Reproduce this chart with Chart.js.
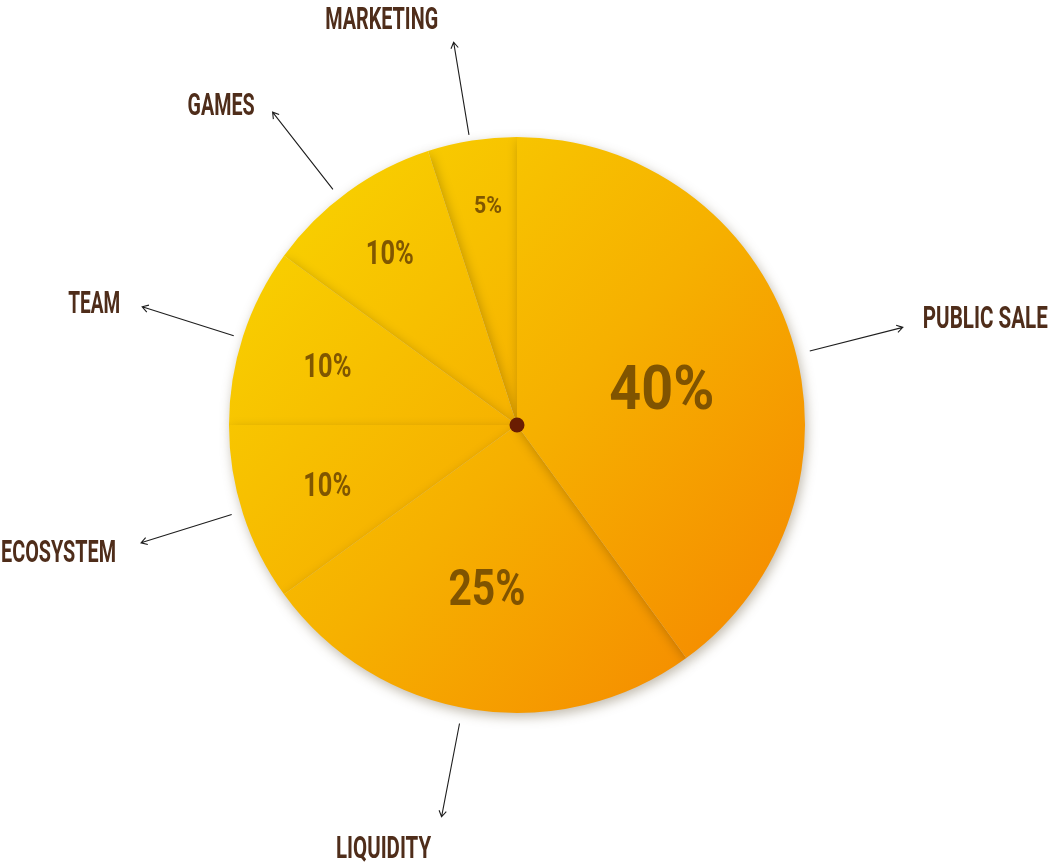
<!DOCTYPE html>
<html>
<head>
<meta charset="utf-8">
<script src="https://cdn.jsdelivr.net/npm/chart.js@4.4.0/dist/chart.umd.min.js"></script>
<style>
  html, body { margin: 0; padding: 0; background: #ffffff; }
  #wrap { width: 1050px; height: 865px; position: relative; }
</style>
</head>
<body>
<div id="wrap"><canvas id="c" width="1050" height="865"></canvas></div>
<script>
// ---- data ----
const categories = ['PUBLIC SALE', 'LIQUIDITY', 'ECOSYSTEM', 'TEAM', 'GAMES', 'MARKETING'];
const shares = [40, 25, 10, 10, 10, 5];
const valueLabels = ['40%', '25%', '10%', '10%', '10%', '5%'];

// ---- styles (not data) ----
const FONT = "Roboto, 'DejaVu Sans Condensed', sans-serif";
const pctStyle = [
  { size: 62, w: 105, da: 3.3, fr: 0.52 },
  { size: 50, w: 77, da: 1.5, fr: 0.573 },
  { size: 34, w: 48, da: 0.7, fr: 0.69 },
  { size: 34, w: 48, da: -0.5, fr: 0.69 },
  { size: 34, w: 48, da: -0.3, fr: 0.746 },
  { size: 23, w: 28, da: 1.5, fr: 0.77 }
];
const outStyle = [
  { ang: -14.2, r1: 302, r2: 398, dx: 20, dy: -10, align: 'left', w: 125 },
  { ang: 100.9, r1: 304, r2: 399, dx: -58, dy: 30, align: 'center', w: 95 },
  { ang: 162.6, r1: 299, r2: 394, dx: -25, dy: 8, align: 'right', w: 115 },
  { ang: 197.5, r1: 297, r2: 393, dx: -22, dy: -5, align: 'right', w: 52 },
  { ang: 232, r1: 299, r2: 397, dx: -18, dy: -8, align: 'right', w: 67 },
  { ang: 260.6, r1: 294, r2: 388, dx: -72, dy: -24, align: 'center', w: 113 }
];

function drawScaledText(ctx, text, x, cy, size, targetW, align, color) {
  ctx.save();
  ctx.font = 'bold ' + size + 'px ' + FONT;
  const m = ctx.measureText(text).width;
  const s = targetW / m;
  let left;
  if (align === 'left') left = x;
  else if (align === 'right') left = x - targetW;
  else left = x - targetW / 2;
  ctx.translate(left, cy + 0.355 * size);
  ctx.scale(s, 1);
  ctx.textAlign = 'left';
  ctx.textBaseline = 'alphabetic';
  ctx.fillStyle = color;
  ctx.fillText(text, 0, 0);
  ctx.restore();
}

const shadowOrder = {
  id: 'shadowOrder',
  beforeDatasetDraw(chart, args) {
    const ctx = chart.ctx;
    const meta = args.meta;
    ctx.save();
    ctx.shadowColor = 'rgba(60,40,0,0.32)';
    ctx.shadowBlur = 12;
    ctx.shadowOffsetX = 2;
    ctx.shadowOffsetY = 4;
    for (let i = meta.data.length - 1; i >= 0; i--) {
      meta.data[i].draw(ctx, chart.chartArea);
    }
    ctx.restore();
    return false;
  }
};

const labelsPlugin = {
  id: 'labelsPlugin',
  afterDatasetsDraw(chart) {
    const ctx = chart.ctx;
    const meta = chart.getDatasetMeta(0);
    meta.data.forEach((el, i) => {
      const cx = el.x, cy = el.y, R = el.outerRadius;
      const ps = pctStyle[i];
      const mid = (el.startAngle + el.endAngle) / 2 + ps.da * Math.PI / 180;
      const px = cx + Math.cos(mid) * R * ps.fr;
      const py = cy + Math.sin(mid) * R * ps.fr;
      drawScaledText(ctx, valueLabels[i], px, py, ps.size, ps.w, 'center', 'rgba(112,72,0,0.88)');
      const os = outStyle[i];
      const a = os.ang * Math.PI / 180;
      const sc = R / 288;
      const x1 = cx + Math.cos(a) * os.r1 * sc, y1 = cy + Math.sin(a) * os.r1 * sc;
      const x2 = cx + Math.cos(a) * os.r2 * sc, y2 = cy + Math.sin(a) * os.r2 * sc;
      ctx.save();
      ctx.strokeStyle = '#1e1e1e';
      ctx.lineWidth = 1.1;
      ctx.beginPath();
      ctx.moveTo(x1, y1);
      ctx.lineTo(x2, y2);
      const hl = 7, ha = 0.55;
      ctx.moveTo(x2 - hl * Math.cos(a - ha), y2 - hl * Math.sin(a - ha));
      ctx.lineTo(x2, y2);
      ctx.lineTo(x2 - hl * Math.cos(a + ha), y2 - hl * Math.sin(a + ha));
      ctx.stroke();
      ctx.restore();
      drawScaledText(ctx, categories[i], x2 + os.dx, y2 + os.dy, 31, os.w, os.align, '#4f2d1a');
    });
    const el0 = meta.data[0];
    ctx.save();
    ctx.fillStyle = '#6a1d02';
    ctx.beginPath();
    ctx.arc(el0.x, el0.y, 7.5, 0, Math.PI * 2);
    ctx.fill();
    ctx.restore();
  }
};

function sliceGradient(context) {
  const chart = context.chart;
  const area = chart.chartArea;
  if (!area) return '#f7b500';
  const g = chart.ctx.createLinearGradient(area.left + area.width * 0.12, area.top + area.height * 0.12,
                                           area.right - area.width * 0.05, area.bottom - area.height * 0.12);
  g.addColorStop(0, '#f8cf00');
  g.addColorStop(0.5, '#f6b000');
  g.addColorStop(1, '#f58a00');
  return g;
}

new Chart(document.getElementById('c'), {
  type: 'pie',
  data: {
    labels: categories,
    datasets: [{
      data: shares,
      backgroundColor: sliceGradient,
      borderWidth: 0
    }]
  },
  options: {
    responsive: false,
    animation: false,
    layout: { padding: { left: 229, right: 245, top: 137, bottom: 152 } },
    plugins: {
      legend: { display: false },
      tooltip: { enabled: false }
    }
  },
  plugins: [shadowOrder, labelsPlugin]
});
</script>
</body>
</html>
